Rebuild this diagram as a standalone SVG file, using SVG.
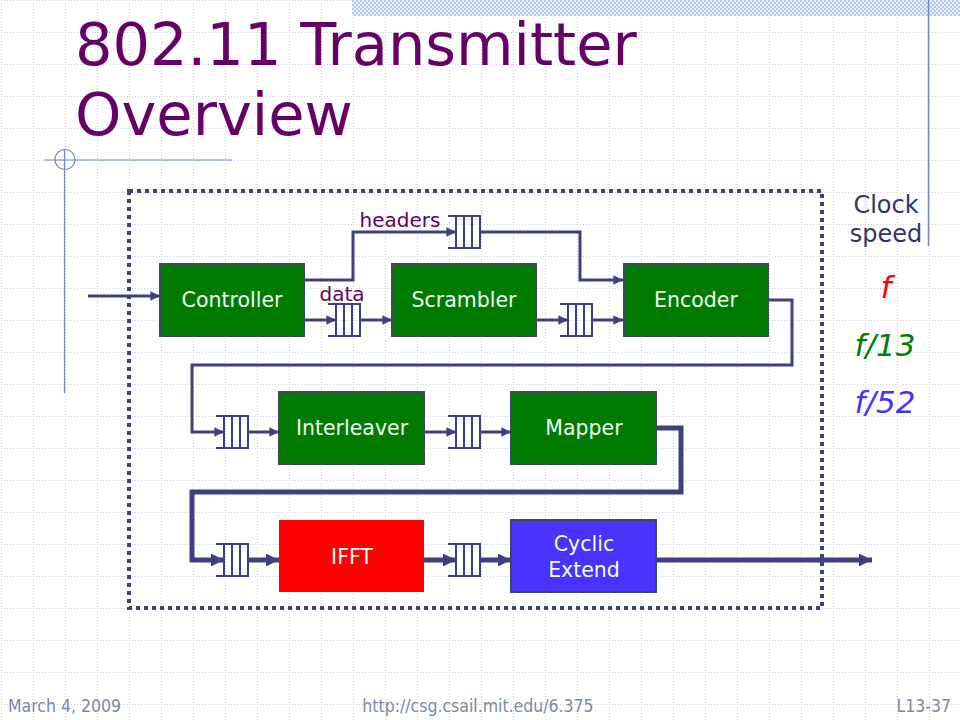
<svg xmlns="http://www.w3.org/2000/svg" width="960" height="720" viewBox="0 0 960 720">
<defs>
<pattern id="grid" x="1" y="0" width="32" height="32" patternUnits="userSpaceOnUse">
<line x1="0" y1="0.5" x2="32" y2="0.5" stroke="#c8cce6" stroke-width="1" stroke-dasharray="1,2"/>
<line x1="0.5" y1="0" x2="0.5" y2="32" stroke="#c8cce6" stroke-width="1" stroke-dasharray="1,2"/>
</pattern>
<pattern id="checker" width="4" height="4" patternUnits="userSpaceOnUse">
<rect width="4" height="4" fill="#e4ecfa"/>
<rect width="2" height="2" fill="#b8cbee"/>
<rect x="2" y="2" width="2" height="2" fill="#b8cbee"/>
</pattern>
<marker id="ah" viewBox="0 0 10 10" refX="10" refY="5" markerWidth="3.2" markerHeight="3.2" orient="auto" markerUnits="strokeWidth">
<path d="M0,0 L10,5 L0,10 z" fill="#404080"/>
</marker>
<marker id="ahb" viewBox="0 0 10 10" refX="10" refY="5" markerWidth="3" markerHeight="2.6" orient="auto" markerUnits="strokeWidth">
<path d="M0,0 L10,5 L0,10 z" fill="#404080"/>
</marker>
</defs>
<style>
.blk{stroke:#3a4a5a;stroke-width:2}
.lbl{font-family:"DejaVu Sans",Verdana,sans-serif;font-size:20.5px;fill:#f0fff0;text-anchor:middle}
.con{fill:none;stroke:#404080;stroke-width:3}
.thk{fill:none;stroke:#404080;stroke-width:5}
.fifo{fill:#ffffff;stroke:#404080;stroke-width:2}
.foot{font-family:"DejaVu Sans Condensed","DejaVu Sans",sans-serif;font-size:17.5px;fill:#7a88aa}
.ttl{font-family:"DejaVu Sans",Verdana,sans-serif;font-size:59px;fill:#660066}
.sm{font-family:"DejaVu Sans",Verdana,sans-serif;font-size:20px;fill:#660066;text-anchor:middle}
.clk{font-family:"DejaVu Sans",Verdana,sans-serif;font-size:24px;fill:#333366;text-anchor:middle}
.frq{font-family:"DejaVu Sans",Verdana,sans-serif;font-size:31px;font-style:italic;text-anchor:middle}
</style>
<rect width="960" height="720" fill="#ffffff"/>
<rect width="960" height="720" fill="url(#grid)"/>
<rect x="352" y="0" width="608" height="16" fill="url(#checker)"/>
<line x1="928.5" y1="0" x2="928.5" y2="246" stroke="#7088cc" stroke-width="1.5"/>
<line x1="44" y1="160" x2="232" y2="160" stroke="#7088cc" stroke-width="1.2"/>
<line x1="64.5" y1="150" x2="64.5" y2="393" stroke="#7088cc" stroke-width="1.2"/>
<circle cx="65" cy="159.5" r="10" fill="none" stroke="#7088cc" stroke-width="1.2"/>
<text x="75" y="65" class="ttl">802.11 Transmitter</text>
<text x="75" y="135" class="ttl">Overview</text>
<rect x="129" y="191" width="693" height="417" fill="none" stroke="#404080" stroke-width="4" stroke-dasharray="4,4"/>
<g id="connectors">
<line x1="88" y1="296" x2="160" y2="296" class="con" marker-end="url(#ah)"/>
<polyline points="304,280 353,280 353,232 456,232" class="con" marker-end="url(#ah)"/>
<polyline points="481,232 580,232 580,280 623,280" class="con" marker-end="url(#ah)"/>
<line x1="304" y1="320" x2="336" y2="320" class="con" marker-end="url(#ah)"/>
<line x1="361" y1="320" x2="392" y2="320" class="con" marker-end="url(#ah)"/>
<line x1="536" y1="320" x2="568" y2="320" class="con" marker-end="url(#ah)"/>
<line x1="593" y1="320" x2="623" y2="320" class="con" marker-end="url(#ah)"/>
<polyline points="768,300 792,300 792,365 192,365 192,432 224,432" class="con" marker-end="url(#ah)"/>
<line x1="249" y1="432" x2="279" y2="432" class="con" marker-end="url(#ah)"/>
<line x1="424" y1="432" x2="456" y2="432" class="con" marker-end="url(#ah)"/>
<line x1="481" y1="432" x2="511" y2="432" class="con" marker-end="url(#ah)"/>
<polyline points="656,428 681,428 681,492 192,492 192,560 224,560" class="thk" marker-end="url(#ahb)"/>
<line x1="249" y1="560" x2="279" y2="560" class="thk" marker-end="url(#ahb)"/>
<line x1="424" y1="560" x2="456" y2="560" class="thk" marker-end="url(#ahb)"/>
<line x1="481" y1="560" x2="511" y2="560" class="thk" marker-end="url(#ahb)"/>
<line x1="656" y1="560" x2="872" y2="560" class="thk" marker-end="url(#ahb)"/>
</g>
<g id="fifo-headers" transform="translate(448,216)"><path d="M0,0 H33 M0,32 H33 M8,0 V32 M16,0 V32 M24,0 V32 M32,0 V32" class="fifo"/></g>
<g id="fifo-data" transform="translate(328,304)"><path d="M0,0 H33 M0,32 H33 M8,0 V32 M16,0 V32 M24,0 V32 M32,0 V32" class="fifo"/></g>
<g id="fifo-scr" transform="translate(560,304)"><path d="M0,0 H33 M0,32 H33 M8,0 V32 M16,0 V32 M24,0 V32 M32,0 V32" class="fifo"/></g>
<g id="fifo-int" transform="translate(216,416)"><path d="M0,0 H33 M0,32 H33 M8,0 V32 M16,0 V32 M24,0 V32 M32,0 V32" class="fifo"/></g>
<g id="fifo-map" transform="translate(448,416)"><path d="M0,0 H33 M0,32 H33 M8,0 V32 M16,0 V32 M24,0 V32 M32,0 V32" class="fifo"/></g>
<g id="fifo-ifft" transform="translate(216,544)"><path d="M0,0 H33 M0,32 H33 M8,0 V32 M16,0 V32 M24,0 V32 M32,0 V32" class="fifo"/></g>
<g id="fifo-cyc" transform="translate(448,544)"><path d="M0,0 H33 M0,32 H33 M8,0 V32 M16,0 V32 M24,0 V32 M32,0 V32" class="fifo"/></g>
<g id="controller"><rect x="160" y="264" width="144" height="72" fill="#007a00" class="blk"/><text x="232" y="307" class="lbl">Controller</text></g>
<g id="scrambler"><rect x="392" y="264" width="144" height="72" fill="#007a00" class="blk"/><text x="464" y="307" class="lbl">Scrambler</text></g>
<g id="encoder"><rect x="624" y="264" width="144" height="72" fill="#007a00" class="blk"/><text x="696" y="307" class="lbl">Encoder</text></g>
<g id="interleaver"><rect x="279" y="392" width="145" height="72" fill="#007a00" class="blk"/><text x="352" y="435" class="lbl">Interleaver</text></g>
<g id="mapper"><rect x="511" y="392" width="145" height="72" fill="#007a00" class="blk"/><text x="584" y="435" class="lbl">Mapper</text></g>
<g id="ifft"><rect x="279" y="520" width="145" height="72" fill="#ff0000"/><text x="352" y="564" class="lbl">IFFT</text></g>
<g id="cyclic"><rect x="511" y="520" width="145" height="72" fill="#4a32ff" class="blk"/><text x="584" y="551" class="lbl">Cyclic</text><text x="584" y="577" class="lbl">Extend</text></g>
<text x="400" y="227" class="sm">headers</text>
<text x="342" y="301" class="sm">data</text>
<text x="886" y="213" class="clk">Clock</text>
<text x="886" y="242" class="clk">speed</text>
<text x="886" y="298" class="frq" fill="#ff0000">f</text>
<text x="885" y="356" class="frq" fill="#008000">f/13</text>
<text x="885" y="413" class="frq" fill="#4433ff">f/52</text>
<text x="8" y="712" class="foot">March 4, 2009</text>
<text x="478" y="712" class="foot" text-anchor="middle">http://csg.csail.mit.edu/6.375</text>
<text x="951" y="712" class="foot" text-anchor="end">L13-37</text>
</svg>
